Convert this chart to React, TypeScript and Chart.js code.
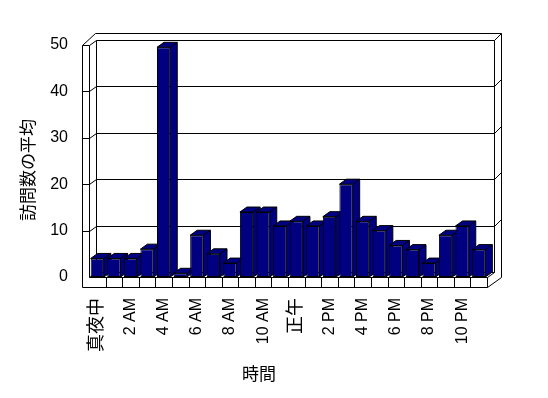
import React, { useEffect, useRef } from 'react';
import { Chart, registerables } from 'chart.js';

Chart.register(...registerables);

const categories = ['真夜中', '1 AM', '2 AM', '3 AM', '4 AM', '5 AM', '6 AM', '7 AM', '8 AM', '9 AM', '10 AM', '11 AM',
  '正午', '1 PM', '2 PM', '3 PM', '4 PM', '5 PM', '6 PM', '7 PM', '8 PM', '9 PM', '10 PM', '11 PM'];
const shownTickLabels = ['真夜中', '2 AM', '4 AM', '6 AM', '8 AM', '10 AM', '正午', '2 PM', '4 PM', '6 PM', '8 PM', '10 PM'];
const visitAverages = [4, 4, 4, 6, 49.5, 0.8, 9, 5, 3, 14, 14, 11, 12, 11, 13, 20, 12, 10, 6.8, 5.9, 3, 9, 11, 5.9];
const yTickValues = [0, 10, 20, 30, 40, 50];
const yTitle = '訪問数の平均';
const xTitle = '時間';

const FONT = "'Liberation Sans', 'Noto Sans CJK JP', sans-serif";
const BAR = '#000080';
const DX = 7;
const DY = -5;
const WALL = 7;
const FLOOR = 10;

const px = (v: number) => Math.round(v) + 0.5;

const box3d = {
  id: 'box3d',
  beforeDraw(chart: any) {
    const { ctx, width, height } = chart;
    ctx.save();
    ctx.fillStyle = '#fff';
    ctx.fillRect(0, 0, width, height);
    ctx.restore();
  },
  beforeDatasetsDraw(chart: any) {
    const { ctx, chartArea: ca, scales } = chart;
    const ys = scales.y;
    const xs = scales.x;
    const xL = px(ca.left);
    const xR = px(ca.right);
    const y0 = px(ys.getPixelForValue(0));
    const yT = px(ys.getPixelForValue(50));
    ctx.save();
    ctx.strokeStyle = '#000';
    ctx.lineWidth = 1;
    const line = (pts: number[][]) => {
      ctx.beginPath();
      ctx.moveTo(pts[0][0], pts[0][1]);
      for (let i = 1; i < pts.length; i++) ctx.lineTo(pts[i][0], pts[i][1]);
      ctx.stroke();
    };
    // outer outline
    line([
      [xL - WALL, yT],
      [xL - WALL, y0 + FLOOR],
      [xR, y0 + FLOOR],
      [xR + 2 * DX, y0],
      [xR + 2 * DX, yT - 12],
      [xL + DX - 1, yT - 12],
      [xL - WALL, yT],
    ]);
    // left wall inner edge
    line([[xL, yT], [xL, y0]]);
    line([[xL - WALL, yT], [xL, yT]]);
    line([[xL, yT], [xL + DX, yT + DY]]);
    // back wall inner frame
    line([[xL + DX, y0 + DY], [xL + DX, yT + DY], [xR + DX, yT + DY], [xR + DX, y0 + DY], [xL + DX, y0 + DY]]);
    line([[xR + DX, yT + DY], [xR + 2 * DX, yT - 12]]);
    // floor
    line([[xL, y0], [xR, y0], [xR, y0 + FLOOR]]);
    line([[xL, y0], [xL + DX, y0 + DY]]);
    line([[xR, y0], [xR + DX, y0 + DY]]);
    const n = categories.length;
    for (let k = 1; k < n; k++) {
      const xb = px((xs.getPixelForValue(k - 1) + xs.getPixelForValue(k)) / 2);
      line([[xb, y0], [xb, y0 + FLOOR]]);
    }
    // gridlines
    for (const v of yTickValues) {
      if (v === 0 || v === 50) continue;
      const yv = px(ys.getPixelForValue(v));
      line([[xL - WALL, yv], [xL, yv], [xL + DX, yv + DY], [xR + DX, yv + DY], [xR + 2 * DX, yv - 12]]);
    }
    // bar tops and sides
    const meta = chart.getDatasetMeta(0);
    ctx.fillStyle = BAR;
    meta.data.forEach((bar: any) => {
      const { x, y, base, width } = bar.getProps(['x', 'y', 'base', 'width'], true);
      const l = x - width / 2;
      const r = x + width / 2;
      const t = y;
      const b = base;
      ctx.beginPath();
      ctx.moveTo(l, t);
      ctx.lineTo(l + DX, t + DY);
      ctx.lineTo(r + DX, t + DY);
      ctx.lineTo(r + DX, b + DY);
      ctx.lineTo(r, b);
      ctx.lineTo(r, t);
      ctx.closePath();
      ctx.fill();
      ctx.stroke();
      line([[r, t], [r + DX, t + DY]]);
    });
    ctx.restore();
  },
  afterDraw(chart: any) {
    const { ctx } = chart;
    ctx.save();
    ctx.fillStyle = '#000';
    ctx.font = `17px ${FONT}`;
    ctx.textAlign = 'center';
    ctx.textBaseline = 'middle';
    ctx.fillText(xTitle, 259, 375);
    ctx.translate(29, 170);
    ctx.rotate(-Math.PI / 2);
    ctx.fillText(yTitle, 0, 0);
    ctx.restore();
  },
};

export default function App() {
  const ref = useRef<HTMLCanvasElement | null>(null);
  useEffect(() => {
    if (!ref.current) return;
    const chart = new Chart(ref.current, {
      type: 'bar',
      data: {
        labels: categories,
        datasets: [
          {
            data: visitAverages,
            backgroundColor: BAR,
            borderColor: '#000',
            borderWidth: 1,
            borderSkipped: false,
            categoryPercentage: 1,
            barPercentage: 0.8,
          },
        ],
      },
      options: {
        responsive: false,
        animation: false,
        events: [],
        layout: { padding: { top: 45, right: 61, left: 0, bottom: 0 } },
        plugins: { legend: { display: false }, tooltip: { enabled: false } },
        scales: {
          x: {
            grid: { display: false, drawTicks: false },
            border: { display: false },
            afterFit: (s: any) => {
              s.height = 121;
            },
            ticks: {
              autoSkip: false,
              minRotation: 90,
              maxRotation: 90,
              padding: 21,
              color: '#000',
              font: (c: any) => ({
                family: FONT,
                size: /[^\x00-\x7F]/.test(categories[c.index] || '') ? 18 : 16,
              }),
              callback: (_v: any, i: number) => (shownTickLabels.includes(categories[i]) ? categories[i] : ''),
            },
          },
          y: {
            min: 0,
            max: 50,
            grid: { display: false, drawTicks: false },
            border: { display: false },
            afterFit: (s: any) => {
              s.width = 89;
            },
            ticks: {
              stepSize: 10,
              padding: 21,
              color: '#000',
              font: { family: FONT, size: 16 },
            },
          },
        },
      },
      plugins: [box3d],
    });
    return () => chart.destroy();
  }, []);
  return (
    <div style={{ position: 'absolute', left: 0, top: 0, width: 548, height: 398, background: '#fff' }}>
      <canvas ref={ref} width={548} height={398} />
    </div>
  );
}
